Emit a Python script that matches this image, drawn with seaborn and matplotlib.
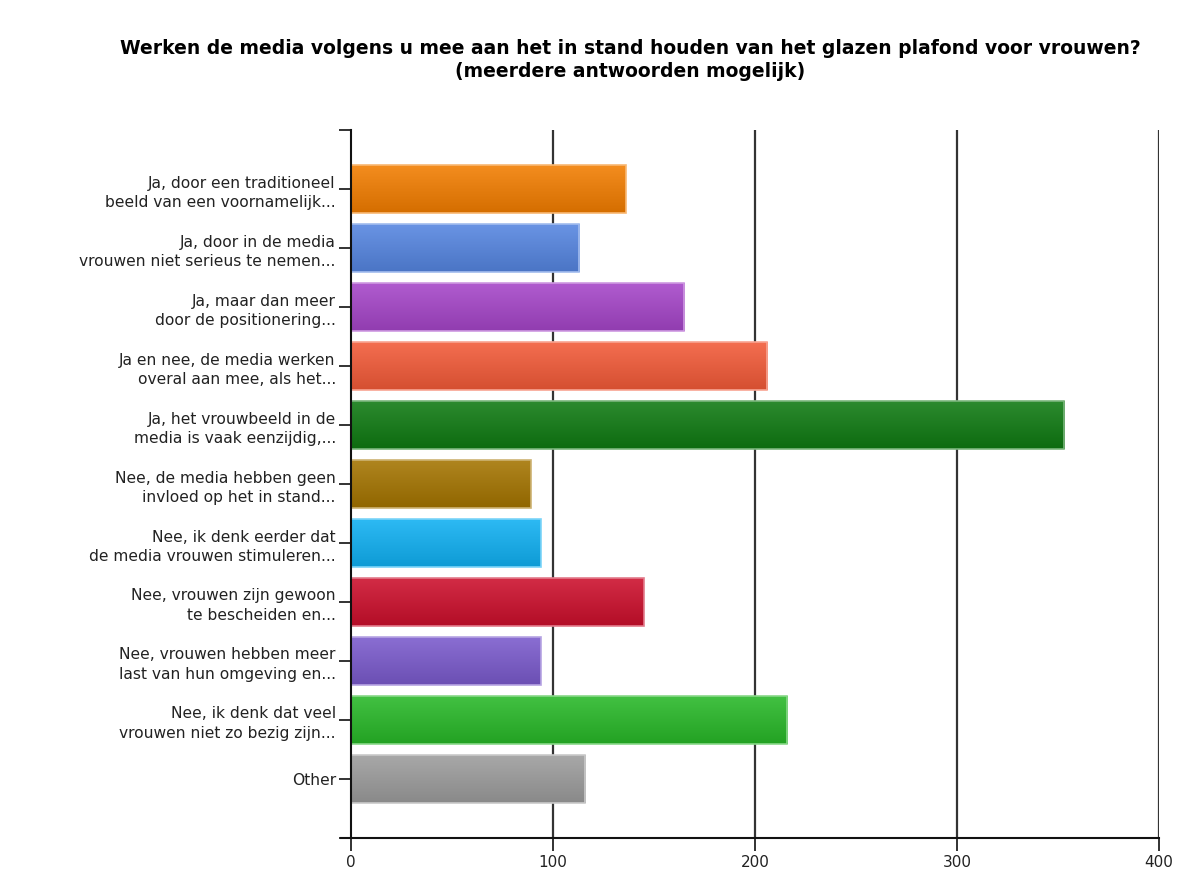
import numpy as np
import pandas as pd
import matplotlib
matplotlib.use("Agg")
import matplotlib.pyplot as plt
import matplotlib.colors as mcolors
import seaborn as sns

# answers (labels are cut off the same way as in the survey tool)
answers = [
    "Ja, door een traditioneel\nbeeld van een voornamelijk...",
    "Ja, door in de media\nvrouwen niet serieus te nemen...",
    "Ja, maar dan meer\ndoor de positionering...",
    "Ja en nee, de media werken\noveral aan mee, als het...",
    "Ja, het vrouwbeeld in de\nmedia is vaak eenzijdig,...",
    "Nee, de media hebben geen\ninvloed op het in stand...",
    "Nee, ik denk eerder dat\nde media vrouwen stimuleren...",
    "Nee, vrouwen zijn gewoon\nte bescheiden en...",
    "Nee, vrouwen hebben meer\nlast van hun omgeving en...",
    "Nee, ik denk dat veel\nvrouwen niet zo bezig zijn...",
    "Other",
]
counts = [136, 113, 165, 206, 353, 89, 94, 145, 94, 216, 116]
bar_colors = ["#f27d00", "#5585e0", "#a545c8", "#f25a38", "#0f7a12",
              "#a47400", "#10b0f2", "#cc0f2c", "#7a5acc", "#28b828", "#9c9c9c"]

df = pd.DataFrame({"answer": answers, "count": counts})

fig = plt.figure(figsize=(12.03, 8.72), dpi=100)
ax = fig.add_axes([0.2918, 0.039, 0.6716, 0.8119])

sns.barplot(data=df, x="count", y="answer", hue="answer", palette=bar_colors,
            legend=False, width=0.8, ax=ax, orient="h", zorder=3)

# glossy gradient on each bar, lighter at the top and darker at the bottom
grad = np.linspace(0, 1, 64).reshape(-1, 1)
for patch, col in zip(ax.patches, bar_colors):
    rgb = np.array(mcolors.to_rgb(col))
    light = np.clip(rgb + (1 - rgb) * 0.12, 0, 1)
    dark = rgb * 0.88
    cmap = mcolors.LinearSegmentedColormap.from_list("g", [light, dark])
    x0, y0 = patch.get_x(), patch.get_y()
    w, h = patch.get_width(), patch.get_height()
    ax.imshow(grad, cmap=cmap, aspect="auto", extent=[x0, x0 + w, y0 + h, y0],
              zorder=3.5, interpolation="bicubic")
    patch.set_edgecolor(np.clip(rgb + (1 - rgb) * 0.45, 0, 1))
    patch.set_linewidth(1.2)
    patch.set_zorder(4)
    patch.set_facecolor("none")

ax.set_xlim(0, 400)
ax.set_ylim(len(answers), -1)
ax.set_xticks([0, 100, 200, 300, 400])
ax.set_xlabel("")
ax.set_ylabel("")

for x in [100, 200, 300, 400]:
    ax.axvline(x, color="#333333", lw=1.6, zorder=1)

ax.set_yticks([-1, len(answers)], minor=True)
ax.tick_params(axis="y", which="both", length=9, width=1.3, color="#222222",
               labelsize=11.2, labelcolor="#222222", pad=2)
ax.tick_params(axis="x", length=9, width=1.3, color="#222222",
               labelsize=11, labelcolor="#222222", pad=3)
for lab in ax.get_yticklabels():
    lab.set_horizontalalignment("right")
    lab.set_multialignment("right")
    lab.set_linespacing(1.35)

for s in ["top", "right"]:
    ax.spines[s].set_visible(False)
ax.spines["left"].set_linewidth(1.5)
ax.spines["bottom"].set_linewidth(1.5)
ax.spines["left"].set_color("#111111")
ax.spines["bottom"].set_color("#111111")
ax.spines["bottom"].set_bounds(-5, 400)
ax.spines["bottom"].set_zorder(5)
ax.spines["left"].set_zorder(5)

fig.text(630 / 1203, 1 - 60 / 872,
         "Werken de media volgens u mee aan het in stand houden van het glazen plafond voor vrouwen?\n"
         "(meerdere antwoorden mogelijk)",
         ha="center", va="center", fontsize=13.5, fontweight="bold", linespacing=1.3)

fig.savefig("out.png", dpi=100, facecolor="white")
